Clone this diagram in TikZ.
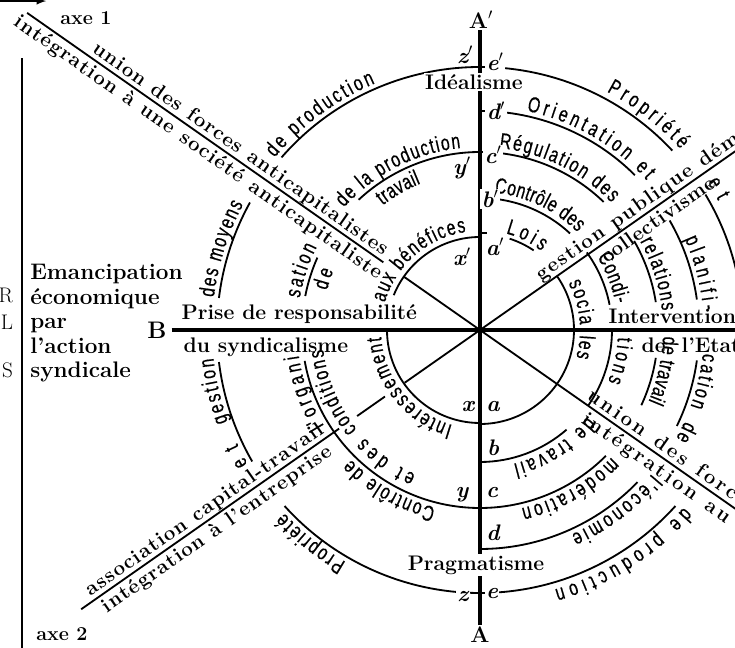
\documentclass[tikz,border=0pt]{standalone}
\usepackage{fontspec}
\newfontfamily\ringfont{Liberation Sans}[FakeStretch=0.72, FakeBold=0.5]
\usetikzlibrary{arrows, calc, positioning, decorations.text}
\newcommand{\rf}{\ringfont\fontsize{15.5}{15.5}\selectfont}
\newcommand{\af}{\bfseries\fontsize{14.5}{14.5}\selectfont}

\begin{document}
\begin{tikzpicture}[scale=0.025, font=\bfseries\fontsize{15}{17}\selectfont]
    \tikzstyle{arcline}=[line width=1.3pt]
    \tikzstyle{axe}=[line width=1.3pt]
    \tikzstyle{mainaxe}=[line width=3.4pt]
    \tikzstyle{ringtext}=[decorate, decoration={text along path, text align=fit to path}]
    \tikzstyle{lbl}=[font=\bfseries\itshape\fontsize{16}{16}\selectfont, inner sep=1pt]
    \useasboundingbox (-480,-318) rectangle (255,330);
    \clip (-480,-318) rectangle (255,330);
    \coordinate (O) at (0,0);

    % main axes
    \node[font=\bfseries\fontsize{16}{16}\selectfont, inner sep=1pt] (Ap) at (1,310) {A$'$};
    \node[font=\bfseries\fontsize{16}{16}\selectfont, inner sep=1pt] (A) at (0,-305) {A};
    \node[font=\bfseries\fontsize{17}{17}\selectfont] (B) at (-323,0) {B};
    \coordinate (Bend) at (260,0);
    \draw[mainaxe] (Ap.south -| O) -- ([yshift=-3pt]A.north -| O);
    \draw[mainaxe] (B.east) -- (Bend);

    % diagonal axes
    \coordinate (ax1a) at (145:553);
    \coordinate (ax1b) at (-35:420);
    \coordinate (ax2a) at (215:487);
    \coordinate (ax2b) at (35:420);
    \draw[axe] (ax1a) -- (145:118);
    \draw[axe] (145:93) -- (O) -- (ax1b);
    \draw[axe] (ax2a) -- (215:172);
    \draw[axe] (215:150) -- (215:116);
    \draw[axe] (215:92) -- (O) -- (ax2b);
    \node[font=\bfseries\fontsize{14}{14}\selectfont] (axe1) at (-394,312) {axe 1};
    \node[font=\bfseries\fontsize{14}{14}\selectfont] (axe2) at (-418,-304) {axe 2};

    % rings, left half
    \draw[arcline] (90:93) arc (90:158:93);
    \draw[arcline] (180:93) arc (180:270:93);
    \draw[arcline] (90:178) arc (90:133:178);
    \draw[arcline] (156:178) arc (156:169:178);
    \draw[arcline] (190:178) arc (190:270:178);
    \draw[arcline] (90:263) arc (90:139:263);
    \draw[arcline] (151:263) arc (151:173:263);
    \draw[arcline] (187:263) arc (187:210:263);
    \draw[arcline] (222:263) arc (222:270:263);
    % rings, right half
    \draw[arcline] (72:96) arc (72:56:96);
    \draw[arcline] (35:94) arc (35:-90:94);
    \draw[arcline] (90:132) arc (90:47:132);
    \draw[arcline] (36:132) arc (36:11:132);
    \draw[arcline] (0:132) arc (0:-35:132);
    \draw[arcline] (-49:132) arc (-49:-90:132);
    \draw[arcline] (90:178) arc (90:46:178);
    \draw[arcline] (30:178) arc (30:9:178);
    \draw[arcline] (-9:178) arc (-9:-25:178);
    \draw[arcline] (-45:178) arc (-45:-90:178);
    \draw[arcline] (90:219) arc (90:45:219);
    \draw[arcline] (30:219) arc (30:8:219);
    \draw[arcline] (-8:219) arc (-8:-26:219);
    \draw[arcline] (-44:219) arc (-44:-90:219);
    \draw[arcline] (90:263) arc (90:43:263);
    \draw[arcline] (31:263) arc (31:5:263);
    \draw[arcline] (-42:263) arc (-42:-90:263);
    \draw[arcline] (O) ++(0,97) -- ++(7,0);

    % texts along the rings, right half
    \path[ringtext, decoration={text={|\rf|Lois}}] (75:100) arc (75:52:100);
    \path[ringtext, decoration={text={|\rf|socia}}] (28:100) arc (28:3:100);
    \path[ringtext, decoration={text={|\rf|les}}] (-3:100) arc (-3:-16:100);
    \path[ringtext, decoration={text={|\rf|Contrôle des}}] (84:138) arc (84:45:138);
    \path[ringtext, decoration={text={|\rf|Condi-}}] (32:138) arc (32:11:138);
    \path[ringtext, decoration={text={|\rf|tions}}] (-3:138) arc (-3:-22:138);
    \path[ringtext, decoration={text={|\rf|de travail}}] (-39:138) arc (-39:-76:138);
    \path[ringtext, decoration={text={|\rf|Régulation des}}] (84:183) arc (84:44:183);
    \path[ringtext, decoration={text={|\rf|relations}}] (29:183) arc (29:6:183);
    \path[ringtext, decoration={text={|\rf|de travail}}] (-2:183) arc (-2:-23:183);
    \path[ringtext, decoration={text={|\rf|modération}}] (-44:183) arc (-44:-77:183);
    \path[ringtext, decoration={text={|\rf|Orientation et}}] (78:224) arc (78:42:224);
    \path[ringtext, decoration={text={|\rf|planifi-}}] (24:224) arc (24:5:224);
    \path[ringtext, decoration={text={|\rf|cation}}] (-6:224) arc (-6:-20:224);
    \path[ringtext, decoration={text={|\rf|de}}] (-24:224) arc (-24:-29:224);
    \path[ringtext, decoration={text={|\rf|l'économie}}] (-40:224) arc (-40:-66:224);
    \path[ringtext, decoration={text={|\rf|Propriété}}] (62:270) arc (62:42:270);
    \path[ringtext, decoration={text={|\rf|et}}] (33:271) arc (33:28.5:271);
    \path[ringtext, decoration={text={|\rf|de production}}] (-41:270) arc (-41:-74:270);
    % texts along the rings, left half
    \path[ringtext, decoration={text={|\rf|Intéressement}}] (254:99) arc (254:184:99);
    \path[ringtext, decoration={text={|\rf|aux bénéfices}}] (164:99) arc (164:98:99);
    \path[ringtext, decoration={text={|\rf|Contrôle de}}] (256:183) arc (256:225:183);
    \path[ringtext, decoration={text={|\rf|l'organi}}] (211.5:183) arc (211.5:188:183);
    \path[ringtext, decoration={text={|\rf|sation}}] (170:183) arc (170:153:183);
    \path[ringtext, decoration={text={|\rf|de la production}}] (138:183) arc (138:96:183);
    \path[ringtext, decoration={text={|\rf|et des}}] (246:158) arc (246:223:158);
    \path[ringtext, decoration={text={|\rf|conditions}}] (219:158) arc (219:187:158);
    \path[ringtext, decoration={text={|\rf|de}}] (165.5:158) arc (165.5:158:158);
    \path[ringtext, decoration={text={|\rf|travail}}] (128:158) arc (128:112:158);
    \path[ringtext, decoration={text={|\rf|Propriété}}] (240:268) arc (240:223:268);
    \path[ringtext, decoration={text={|\rf|et}}] (210:268) arc (210:205:268);
    \path[ringtext, decoration={text={|\rf|gestion}}] (200:268) arc (200:186:268);
    \path[ringtext, decoration={text={|\rf|des moyens}}] (173:268) arc (173:152:268);
    \path[ringtext, decoration={text={|\rf|de production}}] (140:268) arc (140:113:268);

    % texts along the diagonal axes
    \path[ringtext, decoration={text={|\af|union des forces anticapitalistes}}] ($(145:478)+(55:5)$) -- ($(145:122)+(55:5)$);
    \path[ringtext, decoration={text={|\af|intégration à une société anticapitaliste}}] ($(145:558)+(235:18)$) -- ($(145:113)+(235:18)$);
    \path[ringtext, decoration={text={|\af|union des forces}}] ($(-35:126)+(55:5)$) -- ($(-35:330)+(55:5)$);
    \path[ringtext, decoration={text={|\af|intégration au}}] ($(-35:135)+(235:18)$) -- ($(-35:312)+(235:18)$);
    \path[ringtext, decoration={text={|\af|association capital-travail}}] ($(215:472)+(125:5)$) -- ($(215:186)+(125:5)$);
    \path[ringtext, decoration={text={|\af|intégration à l'entreprise}}] ($(215:468)+(305:18)$) -- ($(215:192)+(305:18)$);
    \path[ringtext, decoration={text={|\af|gestion publique démocratique}}] ($(35:78)+(125:5)$) -- ($(35:428)+(125:5)$);
    \path[ringtext, decoration={text={|\af|collectivisme}}] ($(35:142)+(305:18)$) -- ($(35:276)+(305:18)$);

    % poles
    \node[fill=white, inner sep=1pt] (ideal) at (-6,248) {Idéalisme};
    \node[fill=white, inner sep=1pt] (prag) at (-4,-235) {Pragmatisme};
    \node[anchor=south west, inner sep=1pt] (prise) at (-300,5) {Prise de responsabilité};
    \node[anchor=north west, inner sep=1pt] (synd) at (-298,-6) {du syndicalisme};
    \node[anchor=south west, inner sep=1pt] (interv) at (127,5) {Intervention};
    \node[anchor=north west, inner sep=1pt] (deetat) at (160,-6) {de};
    \node[anchor=north west, inner sep=1pt] (etat) at (200,-6) {l'Etat};

    % points on the vertical axis
    \node[lbl] (zp) at (-15,275) {z$'$};
    \node[lbl, fill=white] (ep) at (15,268) {e$'$};
    \node[lbl, fill=white] (dp) at (16,219) {d$'$};
    \node[lbl, fill=white] (cp) at (13,175) {c$'$};
    \node[lbl] (yp) at (-18,162) {y$'$};
    \node[lbl, fill=white] (bp) at (10,131) {b$'$};
    \node[lbl] (xp) at (-18,73) {x$'$};
    \node[lbl] (ap) at (15,83) {a$'$};
    \node[lbl] (x) at (-12,-77) {x};
    \node[lbl] (a) at (13,-77) {a};
    \node[lbl] (b) at (13,-118) {b};
    \node[lbl] (y) at (-18,-165) {y};
    \node[lbl] (c) at (12,-163) {c};
    \node[lbl] (d) at (13,-203) {d};
    \node[lbl, fill=white] (z) at (-17,-267) {z};
    \node[lbl, fill=white] (e) at (12,-264) {e};

    % left margin
    \node[anchor=north west, inner sep=0pt, align=left, font=\bfseries\fontsize{16}{17.4}\selectfont] (eman) at (-450,66) {Emancipation\\économique\\par\\l'action\\syndicale};
    \node[anchor=east, font=\mdseries\fontsize{15}{15}\selectfont] (lr) at (-462,35) {R};
    \node[anchor=east, font=\mdseries\fontsize{15}{15}\selectfont] (ll) at (-462,8) {L};
    \node[anchor=east, font=\mdseries\fontsize{15}{15}\selectfont] (ls) at (-462,-40) {S};
    \coordinate (vtop) at (-458,272);
    \coordinate (vbot) at (-458,-320);
    \draw[line width=1.3pt] (vtop) -- (vbot);
    \coordinate (arra) at (-482,329);
    \coordinate (arrb) at (-434,329);
    \draw[-latex, line width=1.3pt] (arra) -- (arrb);
\end{tikzpicture}
\end{document}
